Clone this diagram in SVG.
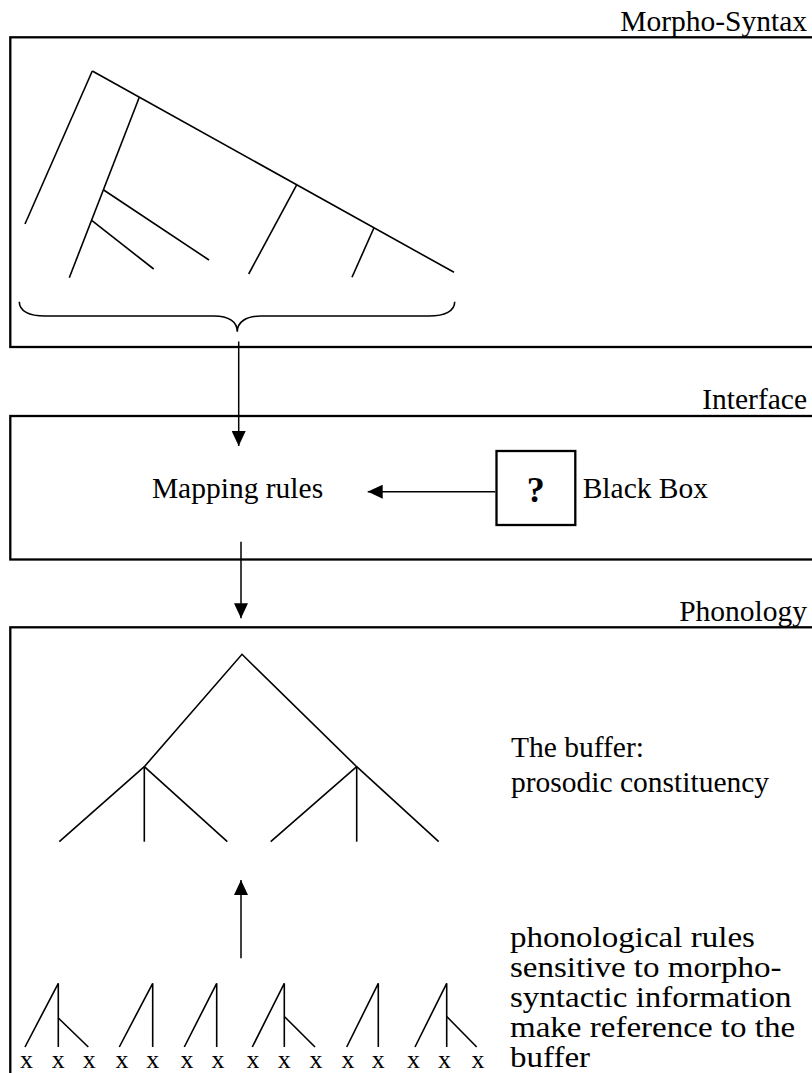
<svg xmlns="http://www.w3.org/2000/svg" width="812" height="1073" viewBox="0 0 812 1073">
<style>
text{font-family:"Liberation Serif","Times New Roman",serif;font-size:29.5px;fill:#000}
.box{fill:none;stroke:#000;stroke-width:2.3}
.ln{fill:none;stroke:#000;stroke-width:1.6;stroke-linecap:butt}
.conn{fill:none;stroke:#000;stroke-width:1.5}
.lbl{text-anchor:end}
.x{font-size:26px;text-anchor:middle}
.q{font-size:36px;font-weight:bold;text-anchor:middle}
</style>
<defs>
<marker id="ah" viewBox="0 0 15 14" refX="15" refY="7" markerWidth="15" markerHeight="14" markerUnits="userSpaceOnUse" orient="auto">
<path d="M0,0 L15,7 L0,14 z" fill="#000"/>
</marker>
</defs>
<rect width="812" height="1073" fill="#fff"/>

<g id="morpho-syntax">
<text class="lbl" x="807" y="31">Morpho-Syntax</text>
<rect class="box" x="10.3" y="37.3" width="820" height="309.7"/>
<g id="syntax-tree" class="ln">
<line x1="92.3" y1="71" x2="25" y2="224"/>
<line x1="92.3" y1="71" x2="454" y2="272.3"/>
<line x1="139.3" y1="97.2" x2="69.3" y2="277.7"/>
<line x1="103.7" y1="190" x2="209" y2="260"/>
<line x1="92" y1="220.7" x2="153.7" y2="269"/>
<line x1="296.7" y1="184.8" x2="248.7" y2="274"/>
<line x1="374" y1="227.8" x2="352" y2="277.3"/>
</g>
<path id="brace" class="ln" d="M19.3,301.7 C19.3,311 29,316 45,316 L214,316 C229,316 237.3,322 237.3,331.7 C237.3,322 246,316 261,316 L429,316 C445,316 454.7,311 454.7,301.7"/>
</g>

<g id="interface">
<text class="lbl" x="807" y="409.3">Interface</text>
<rect class="box" x="10.3" y="416" width="820" height="143.5"/>
</g>

<g id="mapping-rules">
<text x="237.5" y="498.3" text-anchor="middle">Mapping rules</text>
</g>

<g id="black-box">
<rect class="box" x="496.5" y="451" width="78.8" height="74"/>
<text class="q" x="535.8" y="502">?</text>
<text x="582.7" y="498">Black Box</text>
</g>

<g id="phonology">
<text class="lbl" x="807" y="621">Phonology</text>
<rect class="box" x="10.3" y="627.3" width="820" height="500"/>
</g>

<g id="prosodic-tree" class="ln">
<polyline points="144.3,766.7 242,654.3 356.7,766.7"/>
<line x1="144.3" y1="766.7" x2="59.3" y2="841.7"/>
<line x1="144.3" y1="766.7" x2="144.3" y2="841.7"/>
<line x1="144.3" y1="766.7" x2="227.3" y2="841.7"/>
<line x1="356.7" y1="766.7" x2="270.7" y2="841.7"/>
<line x1="356.7" y1="766.7" x2="356.7" y2="841.7"/>
<line x1="356.7" y1="766.7" x2="438.7" y2="841.7"/>
</g>

<g id="buffer-label">
<text x="511" y="756.7">The buffer:</text>
<text x="511" y="791.7">prosodic constituency</text>
</g>

<g id="rules-label" transform="translate(510,0) scale(1.12,1) translate(-510,0)">
<text x="510" y="947">phonological rules</text>
<text x="510" y="977">sensitive to morpho-</text>
<text x="510" y="1007">syntactic information</text>
<text x="510" y="1037">make reference to the</text>
<text x="510" y="1067">buffer</text>
</g>

<g id="skeleton-trees" class="ln">
<polyline points="25,1047 58.3,983.3 58.3,1047"/>
<line x1="58.3" y1="1018" x2="88.3" y2="1047"/>
<polyline points="119.3,1047 152.7,983.3 152.7,1047"/>
<polyline points="184.3,1047 216.7,983.3 216.7,1047"/>
<polyline points="252.3,1047 284.3,983.3 284.3,1047"/>
<line x1="284.3" y1="1016.5" x2="315" y2="1047"/>
<polyline points="346.7,1047 378.3,983.3 378.3,1047"/>
<polyline points="415,1047 446.7,983.3 446.7,1047"/>
<line x1="446.7" y1="1016.5" x2="476.7" y2="1047"/>
</g>

<g id="skeleton-x">
<text class="x" x="26.5" y="1068">x</text>
<text class="x" x="58.3" y="1068">x</text>
<text class="x" x="89.3" y="1068">x</text>
<text class="x" x="122" y="1068">x</text>
<text class="x" x="152.7" y="1068">x</text>
<text class="x" x="187" y="1068">x</text>
<text class="x" x="218" y="1068">x</text>
<text class="x" x="253" y="1068">x</text>
<text class="x" x="284.3" y="1068">x</text>
<text class="x" x="316" y="1068">x</text>
<text class="x" x="348" y="1068">x</text>
<text class="x" x="378.3" y="1068">x</text>
<text class="x" x="413.5" y="1068">x</text>
<text class="x" x="444.5" y="1068">x</text>
<text class="x" x="478" y="1068">x</text>
</g>

<g id="connectors" class="conn">
<line x1="238.7" y1="341.5" x2="238.7" y2="446" marker-end="url(#ah)"/>
<line x1="241" y1="541.7" x2="241" y2="618.3" marker-end="url(#ah)"/>
<line x1="495.3" y1="491.7" x2="367.7" y2="491.7" marker-end="url(#ah)"/>
<line x1="241" y1="958.3" x2="241" y2="880" marker-end="url(#ah)"/>
</g>
</svg>
